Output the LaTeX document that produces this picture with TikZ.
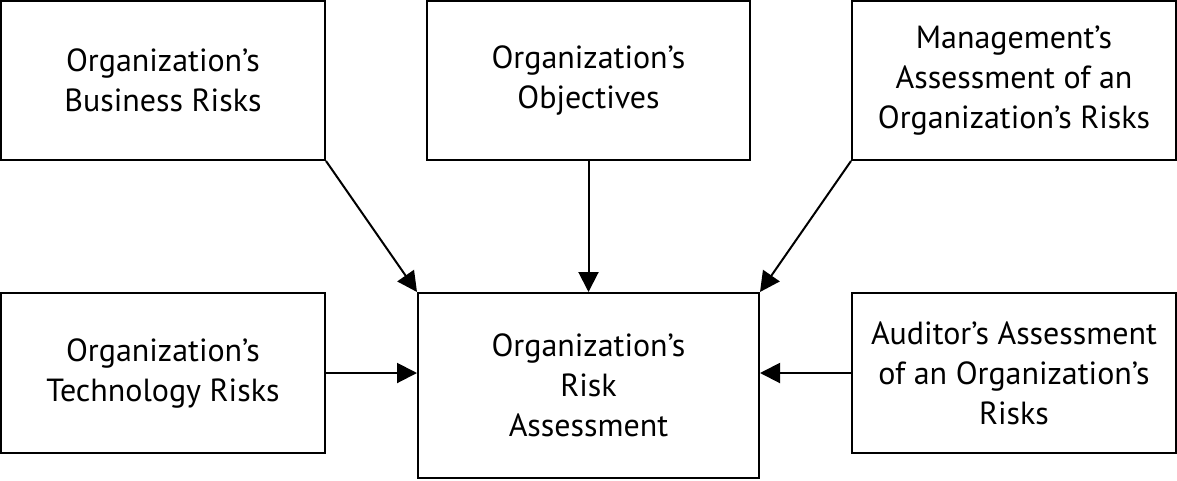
\documentclass[tikz,border=0pt]{standalone}
\usepackage{fontspec}
\setmainfont{PT Sans}
\usepackage{tikz}
\usetikzlibrary{
  arrows.meta,  % Triangle arrow tips
  calc          % coordinate calculations
}

\begin{document}
\begin{tikzpicture}[x=1pt, y=-1pt, line join=miter]
  % shared styles: framed boxes and solid arrows
  \tikzset{
    riskbox/.style={draw=black, line width=2pt, align=center,
      minimum width=324pt, minimum height=159pt, inner sep=0pt,
      font=\fontsize{32}{40}\selectfont},
    feed arrow/.style={line width=2pt, -{Triangle[length=20pt, width=20pt]}}
  }

  % fixed page size, as in the reference
  \useasboundingbox (0,0) rectangle (1177,480);

  % =======================
  % top row of boxes
  % =======================
  \node[riskbox] (business) at (163, 80.5) {Organization’s\\Business Risks};
  \node[riskbox, minimum width=323pt] (objectives) at (588.5, 80.5) {Organization’s\\Objectives};
  \node[riskbox] (management) at (1014, 80.5) {Management’s\\Assessment of an\\Organization’s Risks};

  % =======================
  % bottom row of boxes
  % =======================
  \node[riskbox, minimum height=160pt] (technology) at (163, 373) {Organization’s\\Technology Risks};
  \node[riskbox, minimum width=341pt, minimum height=185pt] (assessment) at (588.5, 385.5) {Organization’s\\Risk\\Assessment};
  \node[riskbox, minimum height=160pt] (auditor) at (1014, 373) {Auditor’s Assessment\\of an Organization’s\\Risks};

  % =======================
  % arrows into the central box
  % =======================
  \draw[feed arrow] (business.south east) -- (assessment.north west);
  \draw[feed arrow] (objectives.south) -- (assessment.north);
  \draw[feed arrow] (management.south west) -- (assessment.north east);
  \draw[feed arrow] (technology.east) -- (technology.east -| assessment.west);
  \draw[feed arrow] (auditor.west) -- (auditor.west -| assessment.east);

\end{tikzpicture}
\end{document}
